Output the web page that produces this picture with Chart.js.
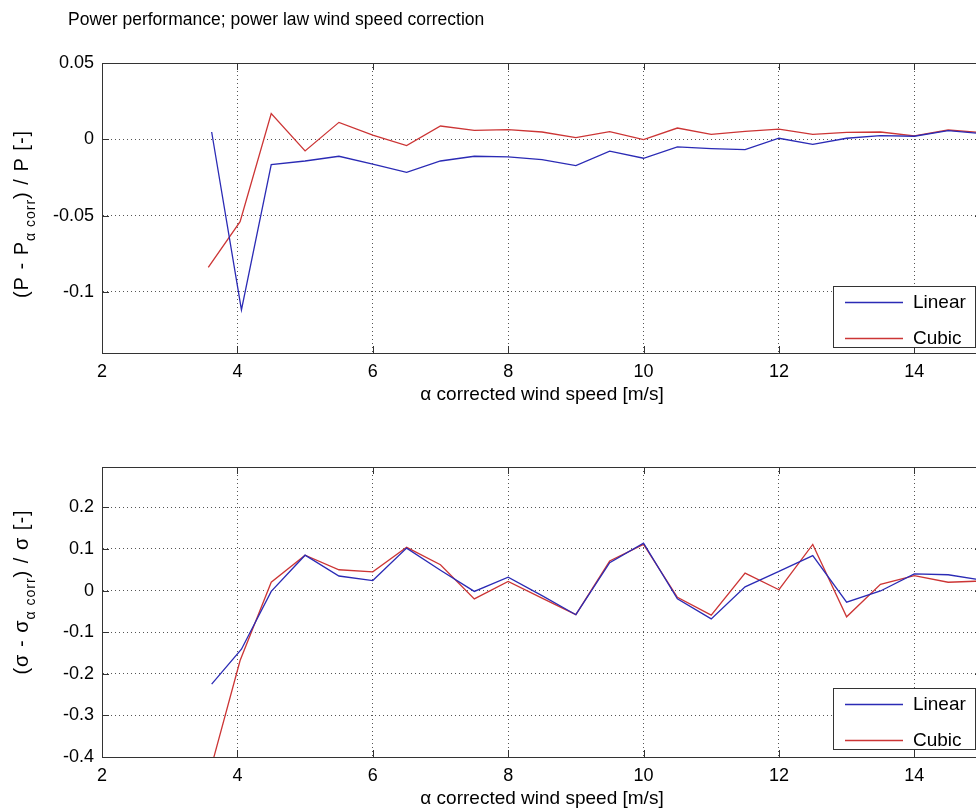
<!DOCTYPE html>
<html>
<head>
<meta charset="utf-8">
<title>Power performance; power law wind speed correction</title>
<script src="https://cdn.jsdelivr.net/npm/chart.js@4"></script>
<style>
	html,
	body {
		margin: 0;
		padding: 0;
		background: #fff;
		overflow: hidden;
	}
	.chart {
		position: absolute;
		left: 0;
		width: 990px;
	}
	#chartTop {
		top: 0;
		height: 420px;
	}
	#chartBottom {
		top: 420px;
		height: 392px;
	}
</style>
</head>
<body>
<div class="chart" id="chartTop"><canvas id="myChart1"></canvas></div>
<div class="chart" id="chartBottom"><canvas id="myChart2"></canvas></div>
<script>
// wind speed bins (alpha corrected), first bin differs between the two fits
const windSpeedLinear = [3.62, 4.06, 4.5, 5, 5.5, 6, 6.5, 7, 7.5, 8, 8.5, 9, 9.5, 10, 10.5, 11, 11.5, 12, 12.5, 13, 13.5, 14, 14.5, 15]
const windSpeedCubic = [3.57, 4.04, 4.5, 5, 5.5, 6, 6.5, 7, 7.5, 8, 8.5, 9, 9.5, 10, 10.5, 11, 11.5, 12, 12.5, 13, 13.5, 14, 14.5, 15]

// (P - P_alpha corr) / P
const powerLinear = [0.0048, -0.1118, -0.0166, -0.0142, -0.0111, -0.0163, -0.0216, -0.0142, -0.0111, -0.0115, -0.0133, -0.0172, -0.0078, -0.0124, -0.005, -0.0061, -0.0068, 0.0007, -0.0033, 0.0007, 0.0024, 0.002, 0.0057, 0.0037]
const powerCubic = [-0.0839, -0.054, 0.0168, -0.0076, 0.0111, 0.0028, -0.0041, 0.0087, 0.0059, 0.0063, 0.0048, 0.0011, 0.005, -0.0002, 0.0074, 0.0033, 0.0052, 0.0067, 0.0033, 0.0046, 0.0048, 0.0022, 0.0061, 0.0044]

// (sigma - sigma_alpha corr) / sigma
const sigmaLinear = [-0.225, -0.141, -0.002, 0.085, 0.035, 0.024, 0.102, 0.049, -0.002, 0.032, -0.012, -0.058, 0.067, 0.114, -0.02, -0.068, 0.009, 0.046, 0.084, -0.028, -0.001, 0.04, 0.038, 0.025]
const sigmaCubic = [-0.45, -0.168, 0.02, 0.085, 0.05, 0.045, 0.104, 0.062, -0.02, 0.022, -0.018, -0.058, 0.071, 0.111, -0.016, -0.059, 0.042, 0.002, 0.111, -0.063, 0.015, 0.036, 0.02, 0.023]

const xTicks = [2, 4, 6, 8, 10, 12, 14]
const powerTicks = [-0.1, -0.05, 0, 0.05]
const sigmaTicks = [-0.4, -0.3, -0.2, -0.1, 0, 0.1, 0.2]

const FONT = '"Liberation Sans", Arial, sans-serif'
const BLUE = '#2b2bb5'
const RED = '#cc3535'

Chart.defaults.font.family = FONT
Chart.defaults.color = '#000'

function toPoints(xs, ys) {
	return xs.map((x, i) => ({ x: x, y: ys[i] }))
}

// box round the axes + small inward tick marks (matlab look)
const axesBox = {
	id: 'axesBox',
	afterDatasetsDraw(chart) {
		const ctx = chart.ctx
		const a = chart.chartArea
		ctx.save()
		ctx.strokeStyle = '#333'
		ctx.lineWidth = 1
		ctx.strokeRect(Math.round(a.left) + 0.5, Math.round(a.top) + 0.5, Math.round(a.right - a.left), Math.round(a.bottom - a.top))
		ctx.beginPath()
		chart.scales.x.ticks.forEach((t) => {
			const px = Math.round(chart.scales.x.getPixelForValue(t.value)) + 0.5
			ctx.moveTo(px, a.bottom)
			ctx.lineTo(px, a.bottom - 7)
			ctx.moveTo(px, a.top)
			ctx.lineTo(px, a.top + 7)
		})
		chart.scales.y.ticks.forEach((t) => {
			const py = Math.round(chart.scales.y.getPixelForValue(t.value)) + 0.5
			ctx.moveTo(a.left, py)
			ctx.lineTo(a.left + 7, py)
			ctx.moveTo(a.right, py)
			ctx.lineTo(a.right - 7, py)
		})
		ctx.stroke()
		ctx.restore()
	},
}

// figure title, sits left of the axes centre like in the original
function figTitle(text, x, y) {
	return {
		id: 'figTitle',
		afterDraw(chart) {
			const ctx = chart.ctx
			ctx.save()
			ctx.font = '17.5px ' + FONT
			ctx.fillStyle = '#000'
			ctx.textAlign = 'left'
			ctx.textBaseline = 'alphabetic'
			ctx.fillText(text, x, y)
			ctx.restore()
		},
	}
}

// rotated y label with a subscript part
function yLabel(parts, x, y) {
	return {
		id: 'yLabel',
		afterDraw(chart) {
			const ctx = chart.ctx
			const widths = []
			let total = 0
			ctx.save()
			ctx.letterSpacing = '1px'
			parts.forEach((p) => {
				ctx.font = (p.sub ? 14 : 20) + 'px ' + FONT
				const w = ctx.measureText(p.text).width
				widths.push(w)
				total += w
			})
			ctx.translate(x, y)
			ctx.rotate(-Math.PI / 2)
			ctx.fillStyle = '#000'
			ctx.textAlign = 'left'
			ctx.textBaseline = 'alphabetic'
			let u = -total / 2
			parts.forEach((p, i) => {
				ctx.font = (p.sub ? 14 : 20) + 'px ' + FONT
				ctx.fillText(p.text, u, p.sub ? 7 : 0)
				u += widths[i]
			})
			ctx.restore()
		},
	}
}

// legend box inside the axes, lower right
function boxLegend(left, top, width, height) {
	return {
		id: 'boxLegend',
		afterDraw(chart) {
			const ctx = chart.ctx
			ctx.save()
			ctx.fillStyle = '#fff'
			ctx.fillRect(left, top, width, height)
			ctx.strokeStyle = '#333'
			ctx.lineWidth = 1
			ctx.strokeRect(left + 0.5, top + 0.5, width, height)
			ctx.font = '19px ' + FONT
			ctx.textBaseline = 'middle'
			ctx.textAlign = 'left'
			chart.data.datasets.forEach((ds, i) => {
				const rowY = top + 16 + i * 36
				ctx.strokeStyle = ds.borderColor
				ctx.lineWidth = 1.3
				ctx.beginPath()
				ctx.moveTo(left + 12, rowY + 0.5)
				ctx.lineTo(left + 70, rowY + 0.5)
				ctx.stroke()
				ctx.fillStyle = '#000'
				ctx.fillText(ds.label, left + 80, rowY + 1)
			})
			ctx.restore()
		},
	}
}

function makeOptions(yMin, yMax, yTicks, padTop, xAxisHeight, xTitlePad) {
	return {
		responsive: true,
		maintainAspectRatio: false,
		animation: false,
		layout: {
			padding: { top: padTop, left: 0, right: 8, bottom: 0 },
		},
		elements: {
			point: { radius: 0 },
			line: { borderWidth: 1.3, tension: 0 },
		},
		plugins: {
			legend: { display: false },
			tooltip: { enabled: false },
			title: { display: false },
		},
		scales: {
			x: {
				type: 'linear',
				min: 2,
				max: 15,
				afterBuildTicks: (scale) => {
					scale.ticks = xTicks.map((v) => ({ value: v }))
				},
				afterFit: (scale) => {
					scale.height = xAxisHeight
				},
				grid: { color: '#555', lineWidth: 1, drawTicks: false },
				border: { color: '#333', width: 1, dash: [1, 3] },
				ticks: {
					padding: 8,
					autoSkip: false,
					maxRotation: 0,
					font: { size: 18 },
					color: '#000',
					callback: (v) => String(v),
				},
				title: {
					display: true,
					text: 'α corrected wind speed [m/s]',
					font: { size: 19 },
					color: '#000',
					padding: { top: 0, bottom: xTitlePad },
				},
			},
			y: {
				min: yMin,
				max: yMax,
				afterBuildTicks: (scale) => {
					scale.ticks = yTicks.map((v) => ({ value: v }))
				},
				afterFit: (scale) => {
					scale.width = 102
				},
				grid: { color: '#555', lineWidth: 1, drawTicks: false },
				border: { color: '#333', width: 1, dash: [1, 3] },
				ticks: {
					padding: 8,
					font: { size: 18 },
					color: '#000',
					callback: (v) => String(v),
				},
			},
		},
	}
}

/* chart 1: power */
const ctx1 = document.getElementById('myChart1')

new Chart(ctx1, {
	type: 'line',
	data: {
		datasets: [
			{
				label: 'Linear',
				data: toPoints(windSpeedLinear, powerLinear),
				borderColor: BLUE,
			},
			{
				label: 'Cubic',
				data: toPoints(windSpeedCubic, powerCubic),
				borderColor: RED,
			},
		],
	},
	options: makeOptions(-0.14, 0.05, powerTicks, 63, 67, 14),
	plugins: [
		axesBox,
		figTitle('Power performance; power law wind speed correction', 68, 25),
		yLabel(
			[
				{ text: '(P - P' },
				{ text: 'α corr', sub: true },
				{ text: ') / P [-]' },
			],
			28,
			214
		),
		boxLegend(833, 286, 142, 61),
	],
})

/* chart 2: sigma */
const ctx2 = document.getElementById('myChart2')

new Chart(ctx2, {
	type: 'line',
	data: {
		datasets: [
			{
				label: 'Linear',
				data: toPoints(windSpeedLinear, sigmaLinear),
				borderColor: BLUE,
			},
			{
				label: 'Cubic',
				data: toPoints(windSpeedCubic, sigmaCubic),
				borderColor: RED,
			},
		],
	},
	options: makeOptions(-0.4, 0.297, sigmaTicks, 47, 55, 2),
	plugins: [
		axesBox,
		yLabel(
			[
				{ text: '(σ - σ' },
				{ text: 'α corr', sub: true },
				{ text: ') / σ [-]' },
			],
			28,
			172
		),
		boxLegend(833, 268, 142, 61),
	],
})
</script>
</body>
</html>
